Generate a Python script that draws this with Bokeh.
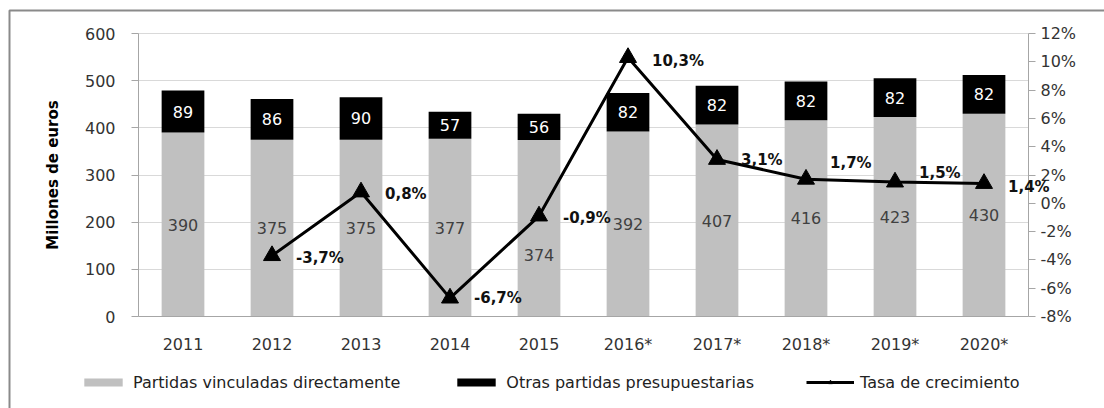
from bokeh.plotting import figure
from bokeh.models import (ColumnDataSource, Range1d, LinearAxis, FixedTicker,
                          PrintfTickFormatter, Legend, LegendItem, BoxAnnotation, LabelSet)
from bokeh.core.properties import value
from bokeh.embed import file_html
from bokeh.resources import INLINE

# ---- data ----
years = ["2011", "2012", "2013", "2014", "2015", "2016*", "2017*", "2018*", "2019*", "2020*"]
vinculadas = [390, 375, 375, 377, 374, 392, 407, 416, 423, 430]
otras = [89, 86, 90, 57, 56, 82, 82, 82, 82, 82]
tasa_years = ["2012", "2013", "2014", "2015", "2016*", "2017*", "2018*", "2019*", "2020*"]
tasa = [-3.7, 0.8, -6.7, -0.9, 10.3, 3.1, 1.7, 1.5, 1.4]
left_ticks = [0, 100, 200, 300, 400, 500, 600]
right_ticks = [-8, -6, -4, -2, 0, 2, 4, 6, 8, 10, 12]

# label nudges (styling only)
gray_label_dy = [0, 0, 0, 0, -27, 0, 0, 0, 0, 0]
tasa_label_dy = [-2, -2, 0, -2, -3, -1, 16, 9, -4]

# ---- layout constants (pixels) ----
W, H = 1104, 408
PL, PR, PT, PB = 138, 1028, 33, 316   # plot area of the reference chart
FONT = "DejaVu Sans"
GRAY = "#c0c0c0"
AXIS_COL = "#a6a6a6"
TXT = "#333333"

n = len(years)
xs = list(range(n))
ymin, ymax = left_ticks[0], left_ticks[-1]
pmin, pmax = right_ticks[0], right_ticks[-1]

# the frame fills the whole canvas; ranges are extended so the chart area lands at PL..PR, PT..PB
ppx = (PR - PL) / n
x_start = -0.5 - PL / ppx
x_end = -0.5 + (W - PL) / ppx
ppy = (PB - PT) / (ymax - ymin)
y_top = ymin + PB / ppy
y_bot = ymin - (H - PB) / ppy
ppp = (PB - PT) / (pmax - pmin)
p_top = pmin + PB / ppp
p_bot = pmin - (H - PB) / ppp

src = ColumnDataSource(dict(
    x=xs,
    vinculadas=vinculadas,
    otras=otras,
    v_mid=[v / 2 for v in vinculadas],
    o_mid=[v + o / 2 for v, o in zip(vinculadas, otras)],
    v_txt=[str(v) for v in vinculadas],
    o_txt=[str(o) for o in otras],
    v_dy=gray_label_dy,
))
tsrc = ColumnDataSource(dict(
    x=[years.index(y) for y in tasa_years],
    tasa=tasa,
    txt=[f"{t:.1f}%".replace(".", ",") for t in tasa],
    dy=tasa_label_dy,
))

p = figure(width=W, height=H, x_range=Range1d(x_start, x_end), y_range=Range1d(y_bot, y_top),
           output_backend="svg", toolbar_location=None,
           min_border_left=0, min_border_right=0, min_border_top=0, min_border_bottom=0,
           x_axis_location=None, y_axis_location=None)
p.extra_y_ranges = {"pct": Range1d(p_bot, p_top)}
p.outline_line_color = None
p.background_fill_color = "white"
p.border_fill_color = "white"

# grid
p.xgrid.grid_line_color = None
p.ygrid.grid_line_color = "#d9d9d9"
p.ygrid.ticker = FixedTicker(ticks=left_ticks)
p.ygrid.cross_bounds = (-0.5, n - 0.5)

# left axis
ya = LinearAxis(ticker=FixedTicker(ticks=left_ticks), fixed_location=-0.5, bounds=(ymin, ymax))
ya.axis_label = "Millones de euros"
ya.axis_label_text_font = FONT
ya.axis_label_text_font_style = "bold"
ya.axis_label_text_font_size = "15px"
ya.axis_label_text_color = "#000000"
ya.axis_label_standoff = 20
ya.major_label_text_font = FONT
ya.major_label_text_font_size = "16px"
ya.major_label_text_color = TXT
ya.major_label_standoff = 16
ya.axis_line_color = AXIS_COL
ya.major_tick_line_color = AXIS_COL
ya.major_tick_out = 7
ya.major_tick_in = 0
ya.minor_tick_line_color = None
p.add_layout(ya, "left")

# x axis
xa = LinearAxis(ticker=FixedTicker(ticks=xs), fixed_location=ymin, bounds=(-0.5, n - 0.5),
                major_label_overrides={i: y for i, y in zip(xs, years)})
xa.major_label_text_font = FONT
xa.major_label_text_font_size = "16px"
xa.major_label_text_color = TXT
xa.major_label_standoff = 18
xa.axis_line_color = AXIS_COL
xa.major_tick_line_color = None
xa.major_tick_out = 0
xa.major_tick_in = 0
xa.minor_tick_line_color = None
p.add_layout(xa, "below")

# right axis
ra = LinearAxis(y_range_name="pct", ticker=FixedTicker(ticks=right_ticks),
                formatter=PrintfTickFormatter(format="%d%%"),
                fixed_location=n - 0.5, bounds=(pmin, pmax))
ra.major_label_text_font = FONT
ra.major_label_text_font_size = "16px"
ra.major_label_text_color = TXT
ra.major_label_standoff = 5
ra.axis_line_color = AXIS_COL
ra.major_tick_line_color = AXIS_COL
ra.major_tick_out = 7
ra.major_tick_in = 0
ra.minor_tick_line_color = None
p.add_layout(ra, "right")

# bars
bars = p.vbar_stack(["vinculadas", "otras"], x="x", width=0.48, color=[GRAY, "#000000"],
                    line_color=None, source=src)

# line
line_r = p.line(x="x", y="tasa", source=tsrc, y_range_name="pct",
                line_color="black", line_width=3)
mark_r = p.scatter(x="x", y="tasa", source=tsrc, y_range_name="pct",
                   marker="triangle", size=17, fill_color="black", line_color="black")

# labels
p.add_layout(LabelSet(x="x", y="v_mid", text="v_txt", source=src, y_offset="v_dy",
                      text_align="center", text_baseline="middle", text_font=value(FONT),
                      text_font_size="16px", text_color="#404040"))
p.add_layout(LabelSet(x="x", y="o_mid", text="o_txt", source=src,
                      text_align="center", text_baseline="middle", text_font=value(FONT),
                      text_font_size="16px", text_color="white"))
p.add_layout(LabelSet(x="x", y="tasa", text="txt", source=tsrc, y_range_name="pct",
                      x_offset=24, y_offset="dy",
                      text_align="left", text_baseline="middle", text_font=value(FONT),
                      text_font_size="15px", text_font_style="bold", text_color="#111111"))

# legend
legend = Legend(items=[
    LegendItem(label="Partidas vinculadas directamente", renderers=[bars[0]]),
    LegendItem(label="Otras partidas presupuestarias", renderers=[bars[1]]),
    LegendItem(label="Tasa de crecimiento", renderers=[line_r, mark_r]),
], orientation="horizontal", location=(79, 16))
legend.label_text_font = FONT
legend.label_text_font_size = "16px"
legend.label_text_color = "#222222"
legend.glyph_width = 48
legend.glyph_height = 10
legend.label_height = 20
legend.label_standoff = 6
legend.spacing = 52
legend.padding = 0
legend.margin = 0
legend.border_line_color = None
legend.background_fill_alpha = 0
p.add_layout(legend)

# outer frame (its right and bottom edges lie outside the picture)
p.add_layout(BoxAnnotation(left=9, right=W + 20, top=10, bottom=H + 20,
                           left_units="canvas", right_units="canvas",
                           top_units="canvas", bottom_units="canvas",
                           fill_alpha=0, line_color="#8a8a8a", line_alpha=1.0, line_width=2))

open("out.html", "w").write(file_html(p, INLINE))
